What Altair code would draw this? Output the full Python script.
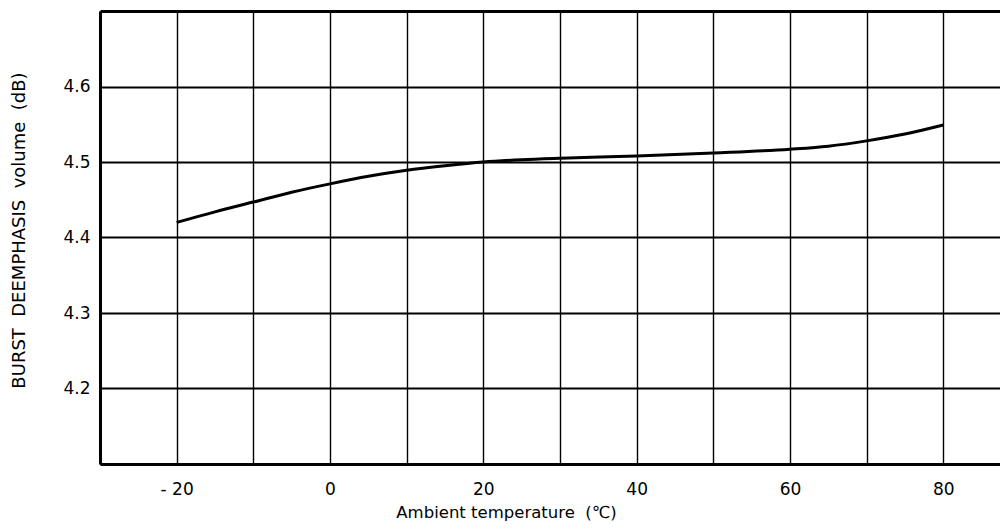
import altair as alt
import pandas as pd

# Data
temps = [-20, -15, -10, -5, 0, 5, 10, 15, 20, 25, 30, 40, 50, 60, 65, 70, 75, 80]
volume = [4.420, 4.434, 4.447, 4.460, 4.471, 4.481, 4.489, 4.495, 4.500, 4.503,
          4.505, 4.508, 4.512, 4.517, 4.521, 4.528, 4.537, 4.549]

x_grid = [-30, -20, -10, 0, 10, 20, 30, 40, 50, 60, 70, 80]
y_grid = [4.2, 4.3, 4.4, 4.5, 4.6, 4.7]
x_domain = [-30, 87.4]
y_domain = [4.1, 4.7]

df = pd.DataFrame({"t": temps, "v": volume})

FONT = "DejaVu Sans"

chart = alt.Chart(df).mark_line(
    color="black", strokeWidth=3, interpolate="monotone", clip=True
).encode(
    x=alt.X("t:Q", scale=alt.Scale(domain=x_domain, nice=False, zero=False),
            axis=alt.Axis(values=x_grid,
                          labelExpr="datum.value % 20 == 0 ? (datum.value < 0 ? '- ' + abs(datum.value) : datum.label) : ''",
                          grid=True, gridColor="black", gridWidth=1.4, gridOpacity=1,
                          ticks=False, tickSize=0, labelPadding=17,
                          labelFont=FONT, labelFontSize=17, labelColor="black",
                          domain=True, domainColor="black", domainWidth=3,
                          title="Ambient temperature \u00a0(\u2103)",
                          titleFont=FONT, titleFontSize=16.5, titleFontWeight="normal",
                          titleColor="black", titleX=406, titleY=53,
                          titleAlign="center", titleAnchor=None, titleBaseline="alphabetic")),
    y=alt.Y("v:Q", scale=alt.Scale(domain=y_domain, nice=False, zero=False),
            axis=alt.Axis(values=y_grid,
                          labelExpr="datum.value < 4.65 ? format(datum.value, '.1f') : ''",
                          grid=True, gridColor="black",
                          gridWidth={"condition": {"test": "datum.value > 4.65", "value": 3}, "value": 2},
                          gridOpacity=1,
                          ticks=False, tickSize=0, labelPadding=10,
                          labelFont=FONT, labelFontSize=17, labelColor="black",
                          domain=True, domainColor="black", domainWidth=3,
                          title="BURST \u00a0DEEMPHASIS \u00a0volume \u00a0(dB)",
                          titleFont=FONT, titleFontSize=18, titleFontWeight="normal",
                          titleColor="black", titleX=-81, titleY=219,
                          titleAngle=270, titleAlign="center", titleBaseline="middle")),
).properties(
    width=900, height=453,
    autosize=alt.AutoSizeParams(type="none"),
    padding={"left": 92, "top": 3, "right": 0, "bottom": 58},
).configure_view(stroke=None).configure(background="white")

chart.save("out.html", embed_options={"renderer": "svg", "actions": False})
